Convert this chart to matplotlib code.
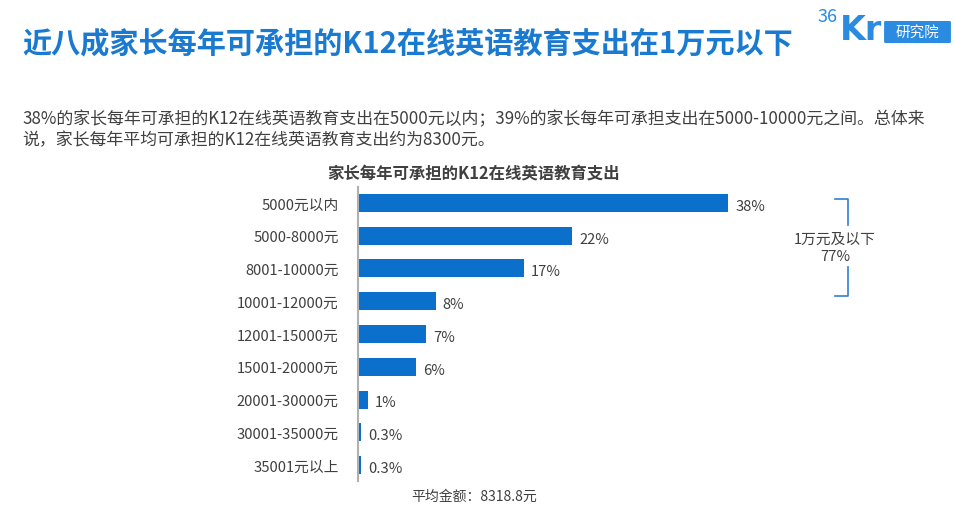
import matplotlib
matplotlib.use("Agg")
import matplotlib.pyplot as plt
from matplotlib.lines import Line2D
from matplotlib.patches import FancyBboxPatch

plt.rcParams['font.family'] = ['Noto Sans CJK SC', 'DejaVu Sans']

categories = ['5000元以内', '5000-8000元', '8001-10000元', '10001-12000元', '12001-15000元',
              '15001-20000元', '20001-30000元', '30001-35000元', '35001元以上']
values = [38, 22, 17, 8, 7, 6, 1, 0.3, 0.3]
value_labels = ['38%', '22%', '17%', '8%', '7%', '6%', '1%', '0.3%', '0.3%']

W, H = 955, 510
fig = plt.figure(figsize=(W / 100, H / 100), dpi=100)

def fx(px):
    return px / W

def fy(py):
    return 1 - py / H

blue = '#0a70cc'
gray = '#404040'

# titles
fig.text(fx(22), fy(43), '近八成家长每年可承担的K12在线英语教育支出在1万元以下',
         fontsize=21, fontweight='bold', color='#1a7ad0', va='center', ha='left')
fig.text(fx(22), fy(119), '38%的家长每年可承担的K12在线英语教育支出在5000元以内；39%的家长每年可承担支出在5000-10000元之间。总体来',
         fontsize=12.2, color=gray, va='center', ha='left')
fig.text(fx(22), fy(140), '说，家长每年平均可承担的K12在线英语教育支出约为8300元。',
         fontsize=12.2, color=gray, va='center', ha='left')
fig.text(fx(474), fy(173), '家长每年可承担的K12在线英语教育支出',
         fontsize=11.8, fontweight='bold', color=gray, va='center', ha='center')
fig.text(fx(474), fy(497), '平均金额：8318.8元', fontsize=10, color=gray, va='center', ha='center')

# logo
fig.text(fx(817), fy(17), '36', fontsize=13, color='#2a8be0', va='center', ha='left')
fig.text(fx(840), fy(30), 'Kr', fontsize=24, fontweight='bold', color='#2a8be0', va='center', ha='left',
         family='DejaVu Sans')
box = FancyBboxPatch((fx(886), fy(43)), fx(63), 20 / H, boxstyle='round,pad=0.002',
                     transform=fig.transFigure, facecolor='#2a8be0', edgecolor='none')
fig.patches.append(box)
fig.text(fx(917.5), fy(33), '研究院', fontsize=10.5, color='white', va='center', ha='center')

# chart
ax_w = 440
ax = fig.add_axes([fx(358), fy(482.4), ax_w / W, 294.8 / H])
y = list(range(len(categories)))
ax.barh(y, values, height=0.55, color=blue)
ax.set_ylim(len(categories) - 0.5, -0.5)
ax.set_xlim(0, ax_w / 9.74)
ax.set_yticks(y)
ax.set_yticklabels(categories, fontsize=10.6, color=gray)
ax.tick_params(axis='y', length=0, pad=14)
ax.set_xticks([])
for s in ['top', 'right', 'bottom']:
    ax.spines[s].set_visible(False)
ax.spines['left'].set_color('#b0b0b0')
ax.spines['left'].set_linewidth(1.5)
for yi, v, lab in zip(y, values, value_labels):
    ax.annotate(lab, (v, yi), xytext=(5, -2), textcoords='offset points',
                fontsize=10.6, color=gray, va='center', ha='left')

# bracket
bc = '#2f7fd0'
pts_top = [(835, 200), (848, 200), (848, 226)]
pts_bot = [(848, 268), (848, 297), (835, 297)]
for pts in (pts_top, pts_bot):
    fig.add_artist(Line2D([fx(p[0]) for p in pts], [fy(p[1]) for p in pts],
                          transform=fig.transFigure, color=bc, lw=1.2))
fig.text(fx(835), fy(240), '1万元及以下', fontsize=10.6, color=gray, va='center', ha='center')
fig.text(fx(835), fy(257), '77%', fontsize=10.6, color=gray, va='center', ha='center')

fig.savefig('out.png', dpi=100)
